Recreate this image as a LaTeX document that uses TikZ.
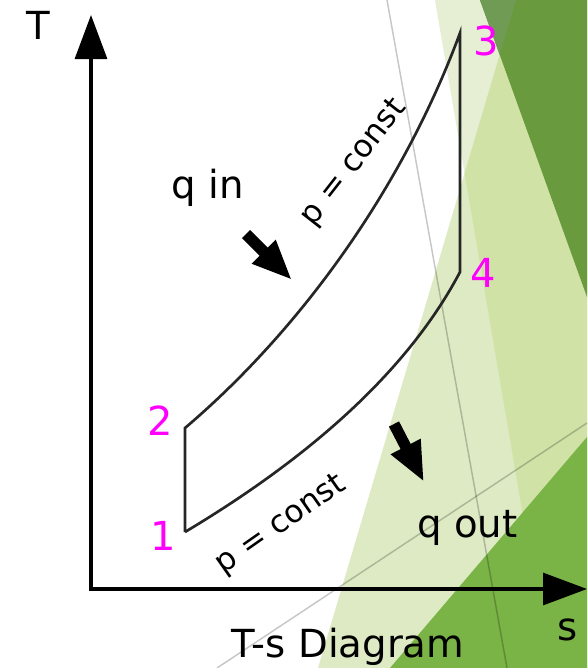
\documentclass[tikz,border=0pt]{standalone}
\usepackage{fontspec}
\setmainfont{DejaVu Sans}
\usetikzlibrary{arrows.meta, positioning, calc}
\definecolor{numpink}{RGB}{255, 0, 255}
\definecolor{verdepalido}{RGB}{230, 238, 212}
\definecolor{verdeclaro}{RGB}{221, 234, 195}
\definecolor{verdemedio}{RGB}{209, 226, 166}
\definecolor{verdeoscuro}{RGB}{106, 154, 62}
\definecolor{verdegris}{RGB}{112, 155, 84}
\definecolor{verdevivo}{RGB}{122, 179, 70}

\begin{document}
\begin{tikzpicture}[
                x=0.75pt, y=-0.75pt,
                etiqueta/.style={
                    font=\fontsize{29}{34}\selectfont,
                    anchor=base,
                    inner sep=0pt
                },
                estado/.style={
                    font=\fontsize{30}{36}\selectfont,
                    text=numpink,
                    anchor=base,
                    inner sep=0pt
                },
                isobara/.style={
                    font=\fontsize{23.5}{28}\selectfont,
                    inner sep=0pt
                },
                eje/.style={line width=2.3pt, -{Triangle[length=33pt,width=24pt]}},
                ciclo/.style={line width=2pt, draw=black!85},
                flecha/.style={line width=8.5pt, -{Triangle[length=30pt,width=23pt]}},
                fina/.style={line width=1.1pt, draw=black, opacity=0.22}
            ]
                % fondo de la diapositiva
                \fill[white] (0,0) rectangle (587,668);
                \useasboundingbox (0,0) rectangle (587,668);
                \fill[verdepalido] (435,0) -- (587,0) -- (587,668) -- (549,668) -- cycle;
                \fill[verdeclaro] (516,0) -- (587,0) -- (587,668) -- (318,668) -- cycle;
                \fill[verdemedio] (516,0) -- (587,0) -- (587,668) -- (549,668) -- (464.6,173.3) -- cycle;
                \fill[verdeoscuro] (480,0) -- (587,0) -- (587,297) -- cycle;
                \fill[verdegris] (480,0) -- (516,0) -- (499.7,54.8) -- cycle;
                \fill[verdevivo] (390,668) -- (587,437) -- (587,668) -- cycle;
                \draw[fina] (387,0) -- (507,668);
                \draw[fina] (217,668) -- (587,423);

                % ejes
                \coordinate (o) at (91,589);
                \coordinate (tmax) at (91,15);
                \coordinate (smax) at (587,589);
                \draw[eje] (o) -- (tmax);
                \draw[eje] ($(o)+(-2,0)$) -- (smax);
                \node[etiqueta] (tlab) at (38.5,39) {T};
                \node[etiqueta] (slab) at (568,640) {s};
                \node[etiqueta] (titulo) at (348,657) {T-s Diagram};

                % ciclo
                \coordinate (e1) at (185,532);
                \coordinate (e2) at (185,428);
                \coordinate (e3) at (460,33);
                \coordinate (e4) at (460,272);
                \draw[ciclo] (e1) -- (e2) .. controls (295,334.5) and (400,195) .. (e3)
                    -- (e4) .. controls (402,382) and (292,468) .. (e1);
                \node[estado] (n1) at (163,550) {1};
                \node[estado] (n2) at (160,435) {2};
                \node[estado] (n3) at (486,55) {3};
                \node[estado] (n4) at (483,287) {4};
                \node[isobara, rotate=52] (palta) at (354,163) {p = const};
                \node[isobara, rotate=35] (pbaja) at (281,525) {p = const};

                % calor
                \node[etiqueta] (qin) at (207.5,198) {q in};
                \node[etiqueta] (qout) at (467.5,537) {q out};
                \coordinate (qinA) at (246,234);
                \coordinate (qinB) at (292,280);
                \coordinate (qoutA) at (394,424);
                \coordinate (qoutB) at (424,482);
                \draw[flecha] (qinA) -- (qinB);
                \draw[flecha] (qoutA) -- (qoutB);
            \end{tikzpicture}
\end{document}
